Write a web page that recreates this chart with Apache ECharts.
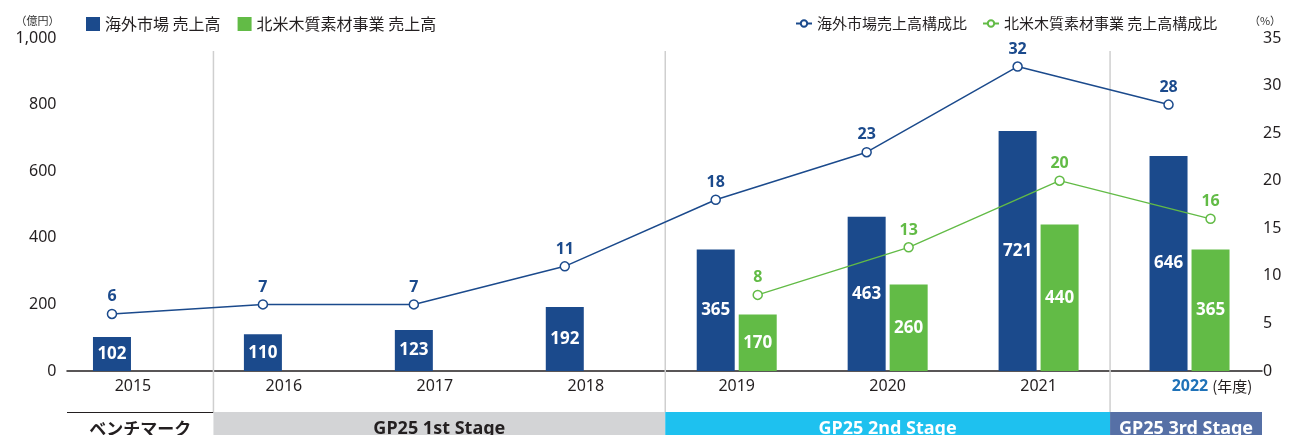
<!DOCTYPE html>
<html>
<head>
<meta charset="utf-8">
<script src="https://cdn.jsdelivr.net/npm/echarts@6/dist/echarts.min.js"></script>
<style>
  html, body { margin: 0; padding: 0; background: #ffffff; }
  #chart { width: 1297px; height: 435px; }
</style>
</head>
<body>
<div id="chart"></div>
<script>
// ---- data ----
const years = ['2015', '2016', '2017', '2018', '2019', '2020', '2021', '2022'];
const overseasSales = [102, 110, 123, 192, 365, 463, 721, 646];          // 億円
const naWoodSales = [null, null, null, null, 170, 260, 440, 365];        // 億円
const overseasRatio = [6, 7, 7, 11, 18, 23, 32, 28];                     // %
const naWoodRatio = [null, null, null, null, 8, 13, 20, 16];             // %
const salesAxis = { min: 0, max: 1000, interval: 200 };
const ratioAxis = { min: 0, max: 35, interval: 5 };
const stageNames = ['ベンチマーク', 'GP25 1st Stage', 'GP25 2nd Stage', 'GP25 3rd Stage'];
const stageFrom = [0, 1, 4, 7];
const stageTo = [0, 3, 6, 7];

// ---- layout & style ----
const BLUE = '#1b4a8c';
const GREEN = '#62bb46';
const INK = '#231f20';
const GRID_LEFT = 57.5, GRID_RIGHT = 32, GRID_TOP = 38, GRID_BOTTOM = 64;
const BAR_W = 38, BAR_GAP = 4;
const OFFSET = (BAR_W + BAR_GAP) / 2;          // bar centre relative to category centre
const AXIS_X0 = 67, AXIS_X1 = 1262;            // visible extent of the baseline
const SEPARATOR_NUDGE = [0, 5, 4, -4];         // divider placement tweak per stage
const stageFill = ['#ffffff', '#d3d4d6', '#1ec1ef', '#5670a6'];
const stageText = [INK, INK, '#ffffff', '#ffffff'];
const LATIN = '"Noto Sans", "Noto Sans CJK JP", sans-serif';
const CJK = '"Noto Sans CJK JP", "Noto Sans", sans-serif';

const chart = echarts.init(document.getElementById('chart'), null, { renderer: 'canvas' });

const sideGrid = (shift) => ({
  left: GRID_LEFT + shift, right: GRID_RIGHT - shift, top: GRID_TOP, bottom: GRID_BOTTOM
});

function renderStage(params, api) {
  const from = api.value(0), to = api.value(1), i = api.value(2);
  const half = api.size([1, 0])[0] / 2;
  let x0 = api.coord([from, 0])[0] - half + SEPARATOR_NUDGE[i];
  let x1 = api.coord([to, 0])[0] + half + (i + 1 < SEPARATOR_NUDGE.length ? SEPARATOR_NUDGE[i + 1] : 0);
  x0 = Math.max(x0, AXIS_X0);
  x1 = Math.min(x1, AXIS_X1);
  const base = api.coord([from, 0])[1];
  const bandTop = base + 41;
  const bandH = 30;
  const cs = params.coordSys;
  const children = [
    { type: 'rect', shape: { x: x0, y: bandTop, width: x1 - x0, height: bandH },
      style: { fill: stageFill[i] } },
    { type: 'text', x: (x0 + x1) / 2, y: bandTop + 17,
      style: { text: stageNames[i], fill: stageText[i], align: 'center', verticalAlign: 'middle',
               font: (i === 0 ? 'bold 17px ' + CJK : 'bold 18px ' + LATIN) } }
  ];
  if (i === 0) {
    children.push({ type: 'line', shape: { x1: x0, y1: bandTop + 0.5, x2: x1, y2: bandTop + 0.5 },
      style: { stroke: INK, lineWidth: 1 } });
  } else {
    children.push({ type: 'line', shape: { x1: x0, y1: cs.y + 13, x2: x0, y2: bandTop },
      style: { stroke: '#cfcfcf', lineWidth: 1.5 } });
  }
  return { type: 'group', children };
}

const option = {
  animation: false,
  backgroundColor: '#ffffff',
  textStyle: { fontFamily: LATIN },
  legend: [
    {
      left: 81, top: 11, itemWidth: 14, itemHeight: 14, itemGap: 17,
      icon: 'rect',
      data: ['海外市場 売上高', '北米木質素材事業 売上高'],
      textStyle: { fontFamily: CJK, fontSize: 16, color: INK }
    },
    {
      left: 790, top: 11, itemWidth: 16, itemHeight: 8, itemGap: 15,
      data: ['海外市場売上高構成比', '北米木質素材事業 売上高構成比'],
      textStyle: { fontFamily: CJK, fontSize: 15, color: INK }
    }
  ],
  grid: [
    { left: GRID_LEFT, right: GRID_RIGHT, top: GRID_TOP, bottom: GRID_BOTTOM },
    { left: AXIS_X0, right: 1297 - AXIS_X1, top: GRID_TOP, bottom: GRID_BOTTOM },
    sideGrid(-OFFSET),
    sideGrid(OFFSET)
  ],
  xAxis: [
    {
      type: 'category', gridIndex: 0, data: years,
      axisLine: { show: false }, axisTick: { show: false },
      axisLabel: {
        interval: 0,
        margin: 7,
        formatter: (v, i) => i === years.length - 1
          ? '{pad|}{hl|' + v + '}{unit|(年度)}'
          : '{yr|' + v + '}',
        rich: {
          yr: { fontFamily: LATIN, fontSize: 16, color: INK },
          hl: { fontFamily: LATIN, fontSize: 16, fontWeight: 'bold', color: '#1f72b8' },
          unit: { fontFamily: CJK, fontSize: 15, color: INK, padding: [0, 0, 0, 4] },
          pad: { width: 45 }
        }
      }
    },
    {
      type: 'value', gridIndex: 1, min: 0, max: 1,
      axisLine: { show: true, onZero: false, lineStyle: { color: INK, width: 1.5 } },
      axisTick: { show: false }, axisLabel: { show: false }, splitLine: { show: false }
    },
    { type: 'category', gridIndex: 2, data: years, show: false },
    { type: 'category', gridIndex: 3, data: years, show: false }
  ],
  yAxis: [
    {
      type: 'value', gridIndex: 0, ...salesAxis,
      name: '（億円）', nameLocation: 'end', nameGap: 12,
      nameTextStyle: { fontFamily: CJK, fontSize: 11, color: '#333', align: 'right', padding: [0, -2, 0, 0] },
      axisLine: { show: false }, axisTick: { show: false }, splitLine: { show: false },
      axisLabel: { margin: 1, fontSize: 16, color: INK, formatter: (v) => v.toLocaleString('en-US') }
    },
    {
      type: 'value', gridIndex: 0, position: 'right', ...ratioAxis,
      name: '（%）', nameLocation: 'end', nameGap: 12,
      nameTextStyle: { fontFamily: CJK, fontSize: 11, color: '#333', align: 'center' },
      axisLine: { show: false }, axisTick: { show: false }, splitLine: { show: false },
      axisLabel: { margin: -2, fontSize: 16, color: INK }
    },
    { type: 'value', gridIndex: 1, min: 0, max: 1, show: false },
    { type: 'value', gridIndex: 2, ...ratioAxis, show: false },
    { type: 'value', gridIndex: 3, ...ratioAxis, show: false }
  ],
  series: [
    {
      type: 'custom', name: 'stages', xAxisIndex: 0, yAxisIndex: 0, z: 1, silent: true,
      encode: { x: [0, 1] },
      data: stageNames.map((n, i) => [stageFrom[i], stageTo[i], i]),
      renderItem: renderStage
    },
    {
      name: '海外市場 売上高', type: 'bar', xAxisIndex: 0, yAxisIndex: 0, z: 2,
      data: overseasSales, barWidth: BAR_W, barGap: (BAR_GAP / BAR_W * 100) + '%',
      itemStyle: { color: BLUE },
      label: { show: true, position: 'inside', color: '#ffffff', fontWeight: 'bold', fontSize: 17 }
    },
    {
      name: '北米木質素材事業 売上高', type: 'bar', xAxisIndex: 0, yAxisIndex: 0, z: 2,
      data: naWoodSales, barWidth: BAR_W,
      itemStyle: { color: GREEN },
      label: { show: true, position: 'inside', color: '#ffffff', fontWeight: 'bold', fontSize: 17 }
    },
    {
      name: '海外市場売上高構成比', type: 'line', xAxisIndex: 2, yAxisIndex: 3, z: 3,
      data: overseasRatio, symbol: 'circle', symbolSize: 9,
      lineStyle: { color: BLUE, width: 1.5 },
      itemStyle: { color: '#ffffff', borderColor: BLUE, borderWidth: 1.5 },
      label: { show: true, position: 'top', distance: 4, color: BLUE, fontWeight: 'bold', fontSize: 16 }
    },
    {
      name: '北米木質素材事業 売上高構成比', type: 'line', xAxisIndex: 3, yAxisIndex: 4, z: 3,
      data: naWoodRatio, symbol: 'circle', symbolSize: 9,
      lineStyle: { color: GREEN, width: 1.3 },
      itemStyle: { color: '#ffffff', borderColor: GREEN, borderWidth: 1.5 },
      label: { show: true, position: 'top', distance: 4, color: GREEN, fontWeight: 'bold', fontSize: 16 }
    }
  ]
};

chart.setOption(option);
</script>
</body>
</html>
